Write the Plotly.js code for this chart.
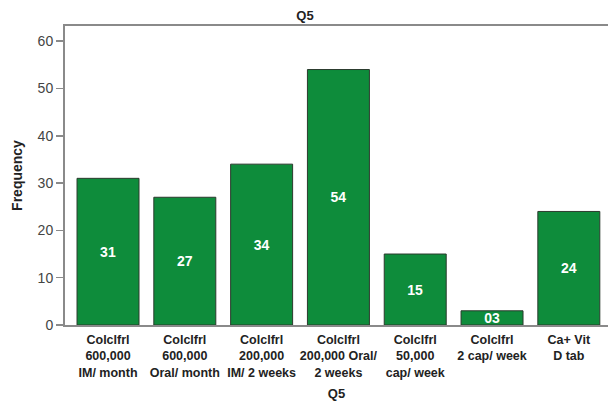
<!DOCTYPE html>
<html>
<head>
<meta charset="utf-8">
<script src="https://cdn.plot.ly/plotly-3.0.1.min.js"></script>
<style>html,body{margin:0;padding:0;background:#fff;}#chart{width:610px;height:402px;}</style>
</head>
<body>
<div id="chart"></div>
<script>
const categories = [
  "Colclfrl<br>600,000<br>IM/ month",
  "Colclfrl<br>600,000<br>Oral/ month",
  "Colclfrl<br>200,000<br>IM/ 2 weeks",
  "Colclfrl<br>200,000 Oral/<br>2 weeks",
  "Colclfrl<br>50,000<br>cap/ week",
  "Colclfrl<br>2 cap/ week",
  "Ca+ Vit<br>D tab"
];
const frequency = [31, 27, 34, 54, 15, 3, 24];
const barLabels = ["31", "27", "34", "54", "15", "03", "24"];
const yTicks = [0, 10, 20, 30, 40, 50, 60];

const trace = {
  type: 'bar',
  x: categories,
  y: frequency,
  text: barLabels,
  textposition: 'inside',
  insidetextanchor: 'middle',
  textangle: 0,
  constraintext: 'none',
  textfont: {family: 'Liberation Sans, Arial, sans-serif', size: 14, color: '#ffffff', weight: 'bold'},
  marker: {color: '#0e8c3b', line: {color: '#2b3a2d', width: 1}},
  hoverinfo: 'none'
};

const layout = {
  width: 610, height: 402,
  margin: {l: 65, r: 2, t: 26, b: 77, pad: 0},
  paper_bgcolor: '#ffffff', plot_bgcolor: '#ffffff',
  font: {family: 'Liberation Sans, Arial, sans-serif', color: '#333'},
  bargap: 0.193,
  showlegend: false,
  title: {text: '<b>Q5</b>', font: {size: 13, color: '#222'}, x: 0.5, xanchor: 'center', y: 0.962, yanchor: 'middle'},
  xaxis: {
    type: 'category',
    range: [-0.56, 6.51],
    showline: true, linecolor: '#8a8a8a', linewidth: 2, mirror: true,
    ticks: '', showgrid: false, zeroline: false,
    tickangle: 0,
    ticklabelstandoff: 2,
    tickfont: {size: 12.5, color: '#222', weight: 'bold'},
    title: {text: '<b>Q5</b>', font: {size: 13, color: '#222'}, standoff: 10},
    automargin: false
  },
  yaxis: {
    range: [0, 63.2],
    tickvals: yTicks,
    showline: true, linecolor: '#8a8a8a', linewidth: 2,
    ticks: 'outside', ticklen: 7, tickcolor: '#8a8a8a', tickwidth: 1.5,
    showgrid: false, zeroline: false,
    tickfont: {size: 14, color: '#444'},
    title: {text: '<b>Frequency</b>', font: {size: 14, color: '#222'}, standoff: 12},
    automargin: false
  }
};

Plotly.newPlot('chart', [trace], layout, {staticPlot: true, displayModeBar: false});
</script>
</body>
</html>
